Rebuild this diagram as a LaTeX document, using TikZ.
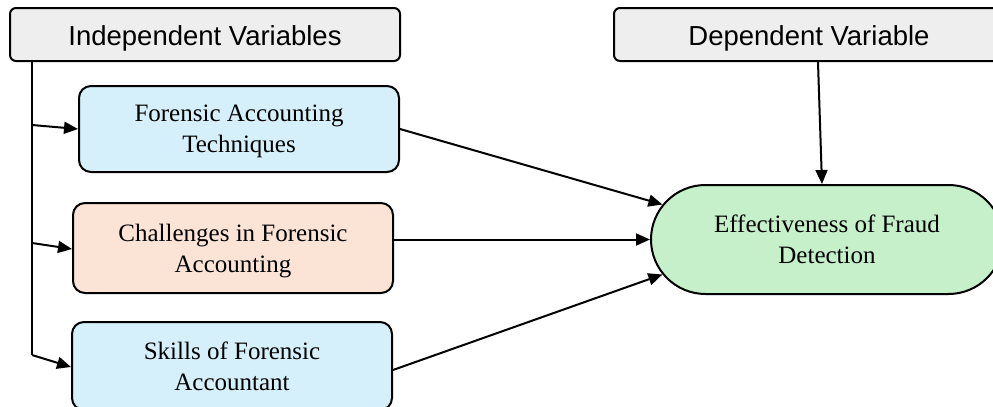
\documentclass[tikz,border=0pt]{standalone}
\usepackage{fontspec}
\setmainfont{Liberation Serif}
\setsansfont{Liberation Sans}
\usetikzlibrary{arrows.meta,positioning,shapes.misc}

\definecolor{headgray}{HTML}{EEEEEE}
\definecolor{techblue}{HTML}{D5F0FA}
\definecolor{challpeach}{HTML}{FBE3D6}
\definecolor{effgreen}{HTML}{C5F0C9}

\begin{document}
\begin{tikzpicture}[
x=0.5pt, y=-0.5pt,
header/.style={draw, line width=1pt, fill=headgray, rounded corners=3pt, minimum width=195pt, minimum height=26.5pt, inner sep=0pt, text height=11pt, text depth=0pt, font=\sffamily\fontsize{13.75}{16}\selectfont},
ivbox/.style={draw, line width=1pt, rounded corners=6pt, minimum width=160pt, minimum height=43pt, inner sep=0pt, text depth=0pt, align=center, font=\fontsize{12.5}{15.5}\selectfont},
link/.style={line width=1pt},
arr/.style={line width=1pt, -{Triangle[length=7pt,width=6pt]}}
]
\useasboundingbox (0,0) rectangle (993,407);

% Headers
\node[header] (iv) at (205,34.5) {Independent Variables};
\node[header] (dv) at (809,34.5) {Dependent Variable};

% Independent variables
\node[ivbox, fill=techblue] (fat) at (239,129) {Forensic Accounting\\Techniques};
\node[ivbox, fill=challpeach, minimum height=45pt] (cfa) at (233,248) {Challenges in Forensic\\Accounting};
\node[ivbox, fill=techblue, minimum height=44pt] (sfa) at (232,366) {Skills of Forensic\\Accountant};

% Dependent variable
\node[draw, line width=1pt, fill=effgreen, rounded rectangle, minimum width=176pt, minimum height=54.5pt, inner sep=0pt, text depth=0pt, align=center, font=\fontsize{12.5}{15.5}\selectfont] (efd) at (827,239.5) {Effectiveness of Fraud\\Detection};

% Trunk from the header
\coordinate (t0) at (32,61);
\coordinate (t1) at (32,125);
\coordinate (t2) at (32,243);
\coordinate (t3) at (32,355);
\draw[link] (t0) -- (t3);
\draw[arr] (t1) -- (fat.west);
\draw[arr] (t2) -- ([yshift=-0.5pt]cfa.west);
\draw[arr] (t3) -- ([yshift=-0.5pt]sfa.west);

% Into the outcome
\draw[arr] (fat.east) -- (efd.168);
\draw[arr] (cfa.east |- efd.west) -- (efd.west);
\draw[arr] ([yshift=-2pt]sfa.east) -- (efd.192);
\draw[arr] ([xshift=4.5pt]dv.south) -- ([xshift=-2.5pt]efd.north);
\end{tikzpicture}
\end{document}
